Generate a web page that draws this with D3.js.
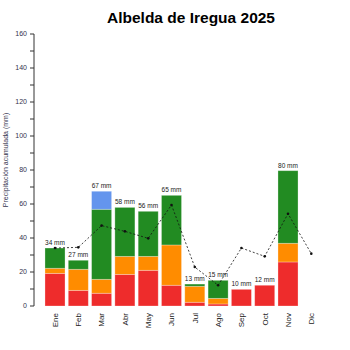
<!DOCTYPE html>
<html><head><meta charset="utf-8">
<script src="https://cdn.jsdelivr.net/npm/d3@7"></script>
<style>body{margin:0;background:#fff}svg{display:block}</style>
</head><body>
<svg id="c" width="350" height="350"></svg>
<script>
const months = ["Ene","Feb","Mar","Abr","May","Jun","Jul","Ago","Sep","Oct","Nov","Dic"];
const redVals    = [19.2, 9.2, 7.5, 18.6, 21.0, 12.2, 2.2, 1.2, 9.8, 12.2, 25.9, 0];
const orangeVals = [3.0, 12.4, 8.2, 10.6, 8.2, 23.7, 9.4, 3.3, 0, 0, 11.0, 0];
const greenVals  = [11.9, 5.3, 41.2, 28.8, 26.5, 29.2, 1.3, 10.6, 0, 0, 42.7, 0];
const blueVals   = [0, 0, 10.6, 0, 0, 0, 0, 0, 0, 0, 0, 0];
const totalLabels = ["34 mm","27 mm","67 mm","58 mm","56 mm","65 mm","13 mm","15 mm","10 mm","12 mm","80 mm",""];
const avgVals    = [34.1, 34.5, 47.3, 43.9, 39.8, 59.4, 22.9, 12.2, 34.1, 29.2, 54.3, 30.8];
const yTicks = [0,20,40,60,80,100,120,140,160];
const yMinor = [10,30,50,70,90,110,130,150];
const title = "Albelda de Iregua 2025";
const yTitle = "Precipitación acumulada (mm)";

const svg = d3.select("#c");
const x = d3.scaleBand().domain(months).range([43.35, 322.95]).paddingInner(0.14).paddingOuter(0.07);
const y = d3.scaleLinear().domain([0,160]).range([306, 34]);

const series = [
  {vals: redVals, color: "#ee2c2c"},
  {vals: orangeVals, color: "#ff8c00"},
  {vals: greenVals, color: "#228b22"},
  {vals: blueVals, color: "#6495ed"}
];
const base = months.map(()=>0);
series.forEach(s=>{
  months.forEach((m,i)=>{
    const v = s.vals[i];
    if (v>0){
      svg.append("rect")
        .attr("x", x(m)).attr("width", x.bandwidth())
        .attr("y", y(base[i]+v)).attr("height", y(base[i]) - y(base[i]+v))
        .attr("fill", s.color)
        .attr("stroke", "#fff").attr("stroke-opacity", 0.35).attr("stroke-width", 0.8);
    }
    base[i] += v;
  });
});

// value labels
months.forEach((m,i)=>{
  if (!totalLabels[i]) return;
  svg.append("text").attr("x", x(m)+x.bandwidth()/2).attr("y", y(base[i]) - 3)
    .attr("text-anchor","middle").attr("font-family","Liberation Sans, Arial, sans-serif")
    .attr("font-size", 6.5).attr("fill","#222").text(totalLabels[i]);
});

// average line
const line = d3.line().x((d,i)=>x(months[i])+x.bandwidth()/2).y(d=>y(d));
svg.append("path").datum(avgVals).attr("d", line).attr("fill","none")
  .attr("stroke","#111").attr("stroke-width",0.8).attr("stroke-dasharray","2,2");
svg.selectAll("circle.pt").data(avgVals).join("circle")
  .attr("cx",(d,i)=>x(months[i])+x.bandwidth()/2).attr("cy",d=>y(d)).attr("r",1.3).attr("fill","#111");

// y axis
const axisColor = "#333";
svg.append("line").attr("x1",34).attr("x2",34).attr("y1",y(160)).attr("y2",y(0)).attr("stroke",axisColor).attr("stroke-width",1);
yTicks.concat(yMinor).forEach(t=>{
  svg.append("line").attr("x1",30).attr("x2",34).attr("y1",y(t)).attr("y2",y(t)).attr("stroke",axisColor).attr("stroke-width",1);
});
yTicks.forEach(t=>{
  svg.append("text").attr("x",27).attr("y",y(t)).attr("dy","0.35em").attr("text-anchor","end")
    .attr("font-family","Liberation Sans, Arial, sans-serif").attr("font-size",7).attr("fill","#33334d").text(t);
});
svg.append("text").attr("transform","translate(8,160) rotate(-90)").attr("text-anchor","middle")
  .attr("font-family","Liberation Sans, Arial, sans-serif").attr("font-size",7).attr("fill","#33334d").text(yTitle);

// month labels
months.forEach(m=>{
  const cx = x(m)+x.bandwidth()/2;
  svg.append("text").attr("transform",`translate(${cx},313) rotate(-90)`).attr("dy","0.35em")
    .attr("text-anchor","end").attr("font-family","Liberation Sans, Arial, sans-serif")
    .attr("font-size",8).attr("fill","#222").text(m);
});

// title
svg.append("text").attr("x",191).attr("y",23).attr("text-anchor","middle")
  .attr("font-family","Liberation Sans, Arial, sans-serif").attr("font-weight","bold")
  .attr("font-size",15.5).attr("fill","#000").text(title);
</script>
</body></html>
